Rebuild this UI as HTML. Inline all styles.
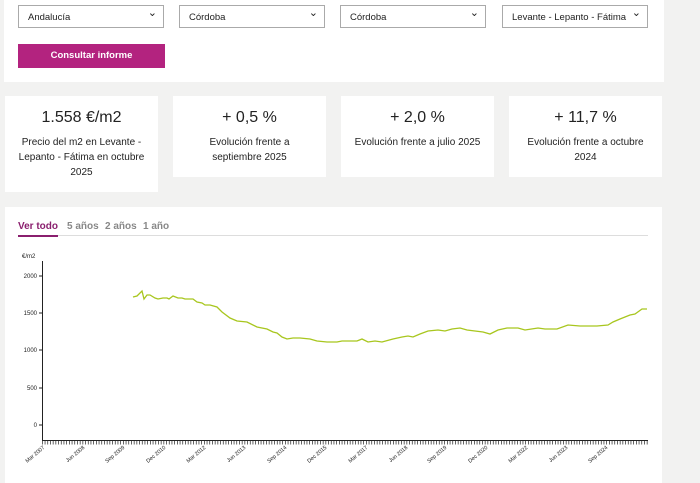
<!DOCTYPE html>
<html><head><meta charset="utf-8"><style>
body{margin:0;width:700px;height:483px;background:#f2f2f1;font-family:"Liberation Sans",sans-serif;position:relative;overflow:hidden;color:#222}
.p{position:absolute;background:#fff}
.sel{position:absolute;top:5px;height:23px;width:146px;border:1px solid #aaa;background:#fff;font-size:9.5px;line-height:23px;padding-left:9px;box-sizing:border-box;white-space:nowrap}
.sel:after{content:"⌄";position:absolute;right:6px;top:-4px;font-size:11px}
.btn{position:absolute;left:18px;top:44px;width:147px;height:24px;background:#b3237f;color:#fff;font-size:9.5px;font-weight:bold;text-align:center;line-height:24px}
.card{position:absolute;top:96px;background:#fff;width:153px;text-align:center}
.card b{display:block;font-weight:normal;font-size:16px;margin-top:13px}
.card span{display:block;font-size:10px;line-height:15px;margin-top:8px;padding:0 6px}
.tab{position:absolute;top:221px;font-size:10px;font-weight:bold;color:#888}
</style></head><body>
<div class="p" style="left:4px;top:0;width:660px;height:82px"></div>
<div class="sel" style="left:18px">Andalucía</div>
<div class="sel" style="left:179px">Córdoba</div>
<div class="sel" style="left:340px">Córdoba</div>
<div class="sel" style="left:502px">Levante - Lepanto - Fátima</div>
<div class="btn">Consultar informe</div>
<div class="card" style="left:5px;height:96px"><b>1.558 €/m2</b><span>Precio del m2 en Levante - Lepanto - Fátima en octubre 2025</span></div>
<div class="card" style="left:173px;height:81px"><b>+ 0,5 %</b><span style="padding:0 24px">Evolución frente a septiembre 2025</span></div>
<div class="card" style="left:341px;height:81px"><b>+ 2,0 %</b><span>Evolución frente a julio 2025</span></div>
<div class="card" style="left:509px;height:81px"><b>+ 11,7 %</b><span>Evolución frente a octubre 2024</span></div>
<div class="p" style="left:5px;top:207px;width:657px;height:276px"></div>
<div class="tab" style="left:18px;color:#8a1f6e">Ver todo</div>
<div class="tab" style="left:67px">5 años</div>
<div class="tab" style="left:105px">2 años</div>
<div class="tab" style="left:143px">1 año</div>
<div style="position:absolute;left:18px;top:235px;width:630px;height:1px;background:#ddd"></div>
<div style="position:absolute;left:18px;top:235px;width:40px;height:2px;background:#8a1f6e"></div>
<svg style="position:absolute;left:0;top:0" width="700" height="483">
<g font-family="Liberation Sans" font-size="6" fill="#222">
<text x="22" y="258">€/m2</text>
<g text-anchor="end"><text x="37" y="278">2000</text><text x="37" y="315">1500</text><text x="37" y="352">1000</text><text x="37" y="390">500</text><text x="37" y="427">0</text></g>
</g>
<g stroke="#222" stroke-width="1">
<line x1="42.5" y1="261" x2="42.5" y2="440"/><line x1="42" y1="440.5" x2="648" y2="440.5"/>
<line x1="39" y1="276" x2="42" y2="276"/><line x1="39" y1="313" x2="42" y2="313"/><line x1="39" y1="350" x2="42" y2="350"/><line x1="39" y1="388" x2="42" y2="388"/><line x1="39" y1="425" x2="42" y2="425"/>
</g>
<g stroke="#222" stroke-width="0.6">
<line x1="42" y1="442.5" x2="648" y2="442.5" stroke-dasharray="0.7 2" stroke-width="4"/>
</g>
<g font-family="Liberation Sans" font-size="5.5" fill="#222" text-anchor="end">
<text transform="translate(45,448) rotate(-40)">Mar 2007</text>
<text transform="translate(85,448) rotate(-40)">Jun 2008</text>
<text transform="translate(125,448) rotate(-40)">Sep 2009</text>
<text transform="translate(166,448) rotate(-40)">Dec 2010</text>
<text transform="translate(206,448) rotate(-40)">Mar 2012</text>
<text transform="translate(246,448) rotate(-40)">Jun 2013</text>
<text transform="translate(287,448) rotate(-40)">Sep 2014</text>
<text transform="translate(327,448) rotate(-40)">Dec 2015</text>
<text transform="translate(368,448) rotate(-40)">Mar 2017</text>
<text transform="translate(408,448) rotate(-40)">Jun 2018</text>
<text transform="translate(447,448) rotate(-40)">Sep 2019</text>
<text transform="translate(488,448) rotate(-40)">Dec 2020</text>
<text transform="translate(528,448) rotate(-40)">Mar 2022</text>
<text transform="translate(568,448) rotate(-40)">Jun 2023</text>
<text transform="translate(608,448) rotate(-40)">Sep 2024</text>
</g>
<polyline fill="none" stroke="#a8c61e" stroke-width="1.3" points="133,297 137,296 142,291 144,299 147,295 150,295 155,298 158,299 163,298 167,298 169,299 173,296 178,298 182,298 185,299 193,299 197,302 202,303 205,305 210,305 217,307 222,312 230,318 237,321 247,322 257,327 267,329 273,332 277,333 282,337 287,339 293,338 300,338 310,339 317,341 327,342 337,342 342,341 350,341 357,341 362,339 368,342 375,341 382,342 393,339 402,337 408,336 413,337 420,334 428,331 438,330 445,331 452,329 460,328 467,330 483,332 490,334 498,330 507,328 518,328 525,330 538,328 545,329 557,329 568,325 580,326 597,326 608,325 613,322 620,319 625,317 630,315 635,314 642,309 647,309"/>
</svg>
</body></html>
